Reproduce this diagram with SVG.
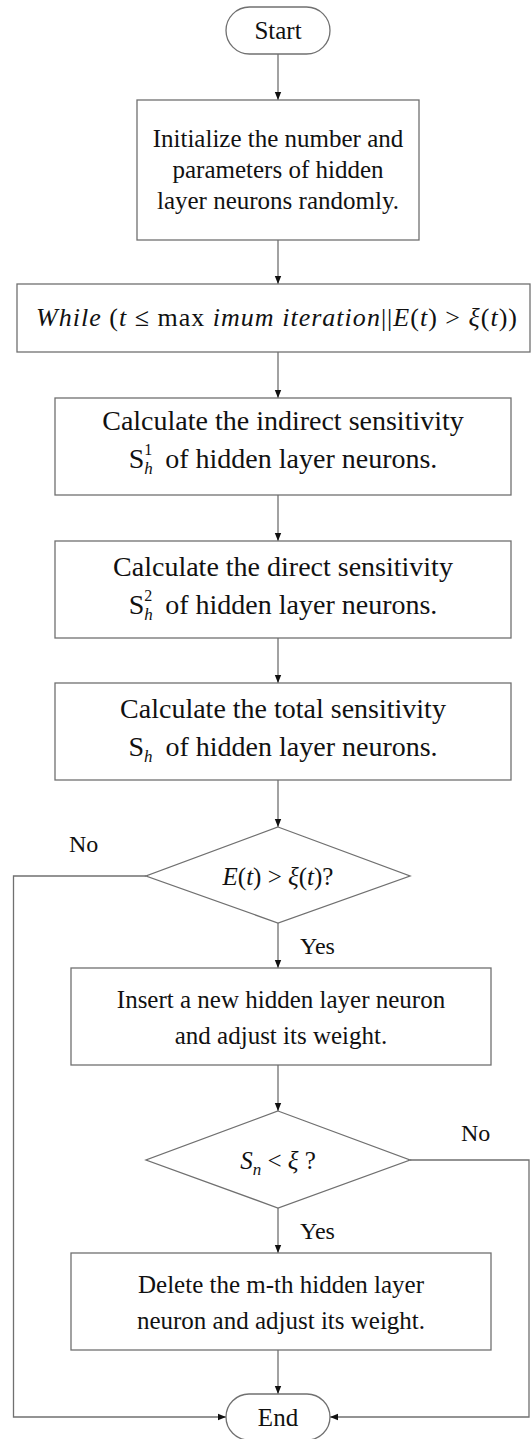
<svg xmlns="http://www.w3.org/2000/svg" width="531" height="1439" viewBox="0 0 531 1439" font-family="'Liberation Serif', 'Times New Roman', serif">
  <defs>
    <marker id="arrow" viewBox="0 0 10 10" refX="10" refY="5" markerWidth="8" markerHeight="8" markerUnits="userSpaceOnUse" orient="auto">
      <path d="M0,1 L10,5 L0,9 Z" fill="#111"/>
    </marker>
    <style>
      .shape { fill: #fff; stroke: #707070; stroke-width: 1.3; }
      .link { fill: none; stroke: #707070; stroke-width: 1.3; }
      .arr { marker-end: url(#arrow); }
      text { font-family: "Liberation Serif", "Times New Roman", serif; fill: #111; }
      .t { font-size: 25px; text-anchor: middle; }
      .tb { font-size: 28px; text-anchor: middle; }
      .lbl { font-size: 24px; }
      .i { font-style: italic; }
    </style>
  </defs>
  <rect width="531" height="1439" fill="#fff"/>

  <!-- connectors -->
  <g id="connectors">
    <line class="link arr" x1="278" y1="54" x2="278" y2="100"/>
    <line class="link arr" x1="278" y1="240" x2="278" y2="284"/>
    <line class="link arr" x1="278" y1="352" x2="278" y2="398"/>
    <line class="link arr" x1="278" y1="495" x2="278" y2="541"/>
    <line class="link arr" x1="278" y1="638" x2="278" y2="683"/>
    <line class="link arr" x1="278" y1="780" x2="278" y2="827"/>
    <line class="link arr" x1="278" y1="923" x2="278" y2="968"/>
    <line class="link arr" x1="278" y1="1065" x2="278" y2="1111"/>
    <line class="link arr" x1="278" y1="1208" x2="278" y2="1253"/>
    <line class="link arr" x1="278" y1="1350" x2="278" y2="1394"/>
    <!-- "No" branch of the first decision -->
    <polyline class="link arr" points="146,876 13.5,876 13.5,1417 226,1417"/>
    <!-- "No" branch of the second decision -->
    <polyline class="link arr" points="410,1160 529,1160 529,1417 330,1417"/>
    <text class="lbl" x="69" y="852">No</text>
    <text class="lbl" x="461" y="1141">No</text>
    <text class="lbl" x="300" y="954">Yes</text>
    <text class="lbl" x="300" y="1239">Yes</text>
  </g>

  <g id="start">
    <rect class="shape" x="226" y="7" width="104" height="47" rx="23.5"/>
    <text class="t" x="278" y="39" font-size="26">Start</text>
  </g>

  <g id="init">
    <rect class="shape" x="137" y="100" width="282" height="140"/>
    <text class="t" x="278" y="147">Initialize the number and</text>
    <text class="t" x="278" y="178">parameters of hidden</text>
    <text class="t" x="278" y="209">layer neurons randomly.</text>
  </g>

  <g id="while">
    <rect class="shape" x="17" y="284" width="513" height="68"/>
    <text x="36" y="326" font-size="26" textLength="481" lengthAdjust="spacing"><tspan class="i">While</tspan>  (<tspan class="i">t</tspan> ≤ max <tspan class="i">imum iteration</tspan>||<tspan class="i">E</tspan>(<tspan class="i">t</tspan>) &gt; <tspan class="i">ξ</tspan>(<tspan class="i">t</tspan>))</text>
  </g>

  <g id="indirect">
    <rect class="shape" x="55" y="398" width="456" height="97"/>
    <text class="tb" x="283" y="430">Calculate the indirect sensitivity</text>
    <text class="tb" x="283" y="468">S<tspan class="i" font-size="17" dy="6">h</tspan><tspan font-size="16" dx="-8.5" dy="-19">1</tspan><tspan dx="6" dy="13"> of hidden layer neurons.</tspan></text>
  </g>

  <g id="direct">
    <rect class="shape" x="55" y="541" width="456" height="97"/>
    <text class="tb" x="283" y="576">Calculate the direct sensitivity</text>
    <text class="tb" x="283" y="614">S<tspan class="i" font-size="17" dy="6">h</tspan><tspan font-size="16" dx="-8.5" dy="-19">2</tspan><tspan dx="6" dy="13"> of hidden layer neurons.</tspan></text>
  </g>

  <g id="total">
    <rect class="shape" x="55" y="683" width="456" height="97"/>
    <text class="tb" x="283" y="718">Calculate the total sensitivity</text>
    <text class="tb" x="283" y="756">S<tspan class="i" font-size="17" dy="6">h</tspan><tspan dx="6" dy="-6"> of hidden layer neurons.</tspan></text>
  </g>

  <g id="check-error">
    <polygon class="shape" points="278,827 410,876 278,923 146,876"/>
    <text class="t" x="278" y="885" font-size="26"><tspan class="i">E</tspan>(<tspan class="i">t</tspan>) &gt; <tspan class="i">ξ</tspan>(<tspan class="i">t</tspan>)?</text>
  </g>

  <g id="insert">
    <rect class="shape" x="71" y="968" width="420" height="97"/>
    <text class="t" x="281" y="1008">Insert a new hidden layer neuron</text>
    <text class="t" x="281" y="1044">and adjust its weight.</text>
  </g>

  <g id="check-sensitivity">
    <polygon class="shape" points="278,1111 410,1160 278,1208 146,1160"/>
    <text class="t" x="278" y="1169" font-size="26"><tspan class="i">S</tspan><tspan class="i" font-size="17" dy="6">n</tspan><tspan dy="-6"> &lt; </tspan><tspan class="i">ξ</tspan> ?</text>
  </g>

  <g id="delete">
    <rect class="shape" x="71" y="1253" width="420" height="97"/>
    <text class="t" x="281" y="1293">Delete the m-th hidden layer</text>
    <text class="t" x="281" y="1329">neuron and adjust its weight.</text>
  </g>

  <g id="end">
    <rect class="shape" x="226" y="1394" width="104" height="46" rx="23"/>
    <text class="t" x="278" y="1426" font-size="26">End</text>
  </g>
</svg>
